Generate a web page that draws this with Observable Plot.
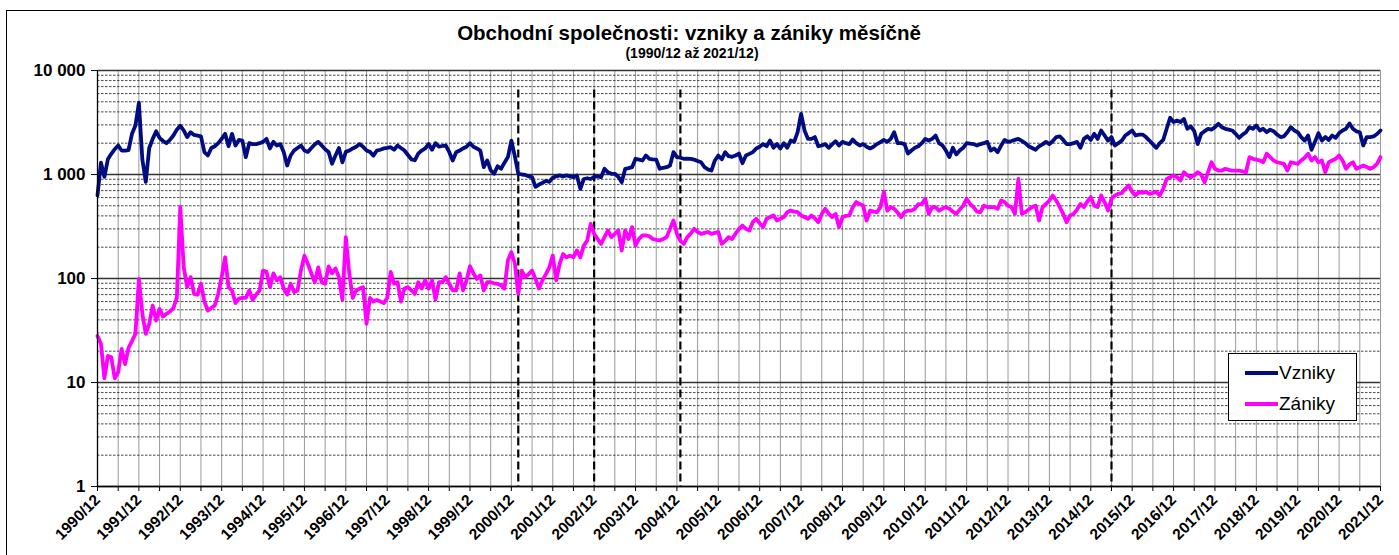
<!DOCTYPE html>
<html>
<head>
<meta charset="utf-8">
<script src="https://cdn.jsdelivr.net/npm/d3@7"></script>
<script src="https://cdn.jsdelivr.net/npm/@observablehq/plot@0.6"></script>
<style>
html,body{margin:0;padding:0;background:#fff;overflow:hidden}
#wrap{position:relative;width:1399px;height:555px;overflow:hidden;font-family:"Liberation Sans",Arial,sans-serif;color:#000}
#frame{position:absolute;left:6px;top:10px;width:1420px;height:600px;border:1px solid #000;box-sizing:border-box}
#title{position:absolute;left:0;width:1378px;top:23px;text-align:center;font-weight:bold;font-size:20.5px;line-height:20px;white-space:nowrap}
#subtitle{position:absolute;left:0;width:1384px;top:46px;text-align:center;font-weight:bold;font-size:14px;line-height:14px;white-space:nowrap}
#chart{position:absolute;left:0;top:62px}
#legend{position:absolute;left:1228px;top:353px;width:129px;height:68px;border:1px solid #000;background:#fff;box-sizing:border-box}
.item{position:absolute;left:16px;display:flex;align-items:center;font-size:19px;line-height:19px}
.swatch{width:33px;height:4px;margin-right:1px}
</style>
</head>
<body>
<div id="wrap">
  <div id="frame"></div>
  <div id="title">Obchodní společnosti: vzniky a zániky měsíčně</div>
  <div id="subtitle">(1990/12 až 2021/12)</div>
  <div id="chart"></div>
  <div id="legend"></div>
</div>
<script>
// Month index 0 = 1990/12, 372 = 2021/12
const startYear = 1990;
const seriesNames = ["Vzniky", "Zániky"];
const seriesColors = ["#000c80", "#ff00ff"];

const vzniky = [
  630,1300,950,1400,1580,1750,1900,1700,1700,1720,2460,2960,
  4900,1400,850,1800,2200,2600,2250,2100,2000,2150,2370,2700,
  2950,2650,2290,2550,2400,2370,2330,1640,1523,1800,1870,2000,
  2200,2460,1870,2460,1900,2150,2120,1470,2000,1960,1960,2000,
  2060,2200,1780,2060,1900,1960,1640,1220,1523,1700,1800,1900,
  1700,1650,1800,1950,2060,1900,1750,1650,1270,1520,1800,1310,
  1650,1700,1780,1850,1960,1850,1700,1650,1520,1700,1730,1780,
  1800,1830,1730,1900,1800,1700,1540,1400,1370,1590,1700,1780,
  1960,1730,2000,1850,1880,1900,1640,1364,1640,1700,1780,1850,
  2000,1850,1780,1700,1176,1364,1100,1016,1200,1135,1300,1470,
  2120,1500,1020,1000,990,960,942,760,800,830,870,850,
  930,960,980,960,980,960,942,980,728,905,920,905,
  950,960,942,1135,1050,1016,1016,950,843,1135,1150,1176,
  1416,1390,1364,1523,1416,1400,1390,1135,1160,1176,1220,1640,
  1470,1450,1416,1420,1416,1390,1350,1312,1176,1120,1092,1364,
  1523,1400,1640,1500,1480,1523,1590,1284,1523,1580,1640,1780,
  1850,1960,1870,2120,1806,1960,1780,2000,1806,2120,2060,2550,
  3830,2650,2200,2200,2290,1870,1900,1960,1806,1950,2090,1900,
  2060,2000,1960,2170,2000,1900,1960,1850,1780,1850,1960,2050,
  2150,2060,2200,2550,2000,2000,1960,1590,1700,1806,1870,2000,
  2200,2120,2200,2370,2000,1900,1700,1470,1806,1560,1700,1806,
  2000,1980,1960,1900,1960,2000,2060,1700,1780,1640,1900,2150,
  2060,2100,2150,2200,2100,2000,1870,1800,1730,1870,1950,2060,
  1960,2100,2290,2330,2150,1960,1960,2000,2060,1806,2200,2330,
  2150,2460,2200,2650,2370,2120,2290,1900,2000,2120,2370,2500,
  2650,2370,2420,2420,2290,2120,1950,1806,2000,2150,2750,3510,
  3190,3300,3190,3420,2750,2900,2610,1960,2460,2610,2750,2700,
  2850,3070,2850,2750,2700,2650,2460,2250,2420,2550,2850,2750,
  2960,2650,2750,2550,2700,2610,2420,2290,2330,2550,2850,2650,
  2550,2290,2120,2370,1727,2060,2500,2120,2290,2150,2370,2250,
  2500,2650,2750,3100,2750,2600,2550,1900,2290,2290,2330,2450,
  2650
];

const zaniky = [
  28,23.6,11,18,17.5,11,12.6,21,15,21.5,25,29.4,
  99,46,29.4,36.7,55,39.5,51,43,45.8,48,52,65,
  485,128,82.5,103,71.3,70,89,60,49.2,52,55,71,
  103,160,82.5,76.7,58,64,65,65,76.7,62.5,70,76.7,
  119,116,82.5,112,96,103,80,70,89,74,76.7,120,
  166,138,112,92,128,92,89,131,112,125,103,62.5,
  250,112,65,76.7,80,82.5,36.7,65,60,62,60,58,
  65,116,89,92,60,80,82.5,77,71,92,80,96,
  80,96,62.5,92,92,103,89,77,77,112,77,96,
  131,112,99,107,77,92,92,90,89,86,80,150,
  179,140,71,119,103,110,119,99,80,96,110,128,
  166,96,138,172,160,166,160,186,160,207,232,336,
  269,240,215,250,290,250,269,290,186,290,240,312,
  207,240,260,260,255,240,235,232,240,250,300,361,
  269,230,215,250,270,300,280,269,275,280,269,275,
  280,215,230,250,240,270,300,323,300,290,348,375,
  340,312,375,390,404,361,375,390,434,450,440,434,
  404,390,375,404,380,348,418,468,420,390,418,312,
  390,400,404,486,543,520,502,361,450,440,434,486,
  680,450,486,468,430,390,434,450,450,468,520,520,
  584,418,486,486,450,470,486,468,440,418,460,502,
  584,520,486,440,434,502,486,486,486,468,563,543,
  500,486,418,908,418,434,460,486,502,361,486,520,
  563,629,560,486,418,348,404,418,460,520,486,550,
  606,502,486,629,543,450,584,629,652,665,728,783,
  680,629,680,665,680,652,665,680,629,728,908,940,
  980,942,876,1052,980,942,980,1052,1000,843,1052,1312,
  1135,1092,1092,1135,1110,1092,1092,1092,1070,1052,1470,1416,
  1390,1364,1312,1585,1470,1364,1312,1290,1268,1092,1312,1290,
  1268,1364,1450,1585,1364,1470,1312,1364,1052,1312,1364,1416,
  1523,1364,1135,1250,1312,1135,1176,1220,1180,1135,1176,1268,
  1470
];

// dashed marker months (index)
const breakMonths = [122, 144, 169, 294];
const yTicks = [1, 10, 100, 1000, 10000];
const yTickLabels = ["1", "10", "100", "1 000", "10 000"];
const yMinorMultipliers = [2, 3, 4, 5, 6, 7, 8, 9];

const lastMonth = vzniky.length - 1;
const monthLabel = m => {
  const total = 11 + m; // months since 1990/01 (0-based)
  const y = startYear + Math.floor(total / 12);
  const mo = (total % 12) + 1;
  return `${y}/${String(mo).padStart(2, "0")}`;
};
const halfYearTicks = d3.range(0, lastMonth + 1, 6);
const yearTicks = d3.range(0, lastMonth + 1, 12);
const minorY = yTicks.slice(0, -1).flatMap(t => yMinorMultipliers.map(k => k * t));

const data = [
  ...vzniky.map((v, i) => ({m: i, v, s: seriesNames[0]})),
  ...zaniky.map((v, i) => ({m: i, v, s: seriesNames[1]}))
];

const chart = Plot.plot({
  width: 1399,
  height: 493,
  marginTop: 8,
  marginBottom: 69,
  marginLeft: 97,
  marginRight: 19,
  style: {fontFamily: '"Liberation Sans", Arial, sans-serif', color: "#000", background: "transparent", overflow: "visible"},
  x: {domain: [0, lastMonth], axis: null},
  y: {type: "log", domain: [1, 10000], axis: null},
  color: {domain: seriesNames, range: seriesColors},
  marks: [
    Plot.ruleX(halfYearTicks, {stroke: "#9a9a9a", strokeWidth: 1}),
    Plot.ruleY(minorY, {stroke: "#333", strokeWidth: 0.9, strokeDasharray: "2.5,1.5"}),
    Plot.ruleY(yTicks, {stroke: "#333", strokeWidth: 1.3}),
    Plot.ruleX(breakMonths, {y1: 6500, y2: 1, stroke: "#000", strokeWidth: 2.2, strokeDasharray: "8,4"}),
    Plot.line(data, {x: "m", y: "v", z: "s", stroke: "s", strokeWidth: 3.8, strokeLinejoin: "round", strokeLinecap: "round"}),
    Plot.ruleX([0], {stroke: "#000", strokeWidth: 1.3}),
    Plot.ruleY([1], {stroke: "#000", strokeWidth: 1.6}),
    Plot.axisY({ticks: yTicks, tickFormat: d => yTickLabels[yTicks.indexOf(d)], label: null, tickSize: 6, tickPadding: 6, fontSize: 17, fontWeight: "bold", stroke: "#000"}),
    Plot.axisX({ticks: halfYearTicks, tickFormat: () => "", label: null, tickSize: 5, stroke: "#000"}),
    Plot.axisX({ticks: yearTicks, tickFormat: monthLabel, label: null, tickSize: 0, tickPadding: 11, tickRotate: -45, fontSize: 15.5, fontWeight: "bold"})
  ]
});
document.getElementById("chart").appendChild(chart);

// legend
const legend = document.getElementById("legend");
seriesNames.forEach((name, i) => {
  const item = document.createElement("div");
  item.className = "item";
  item.style.top = (i === 0 ? 9 : 40) + "px";
  const sw = document.createElement("div");
  sw.className = "swatch";
  sw.style.background = seriesColors[i];
  const t = document.createElement("span");
  t.textContent = name;
  item.appendChild(sw);
  item.appendChild(t);
  legend.appendChild(item);
});
</script>
</body>
</html>
